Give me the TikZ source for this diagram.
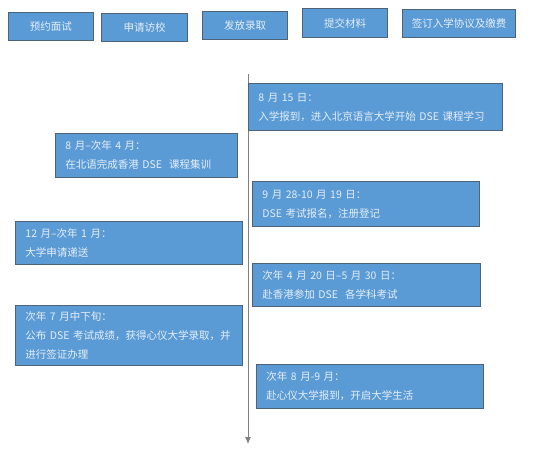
\documentclass[tikz,border=0pt]{standalone}
\usepackage{fontspec}
\setmainfont{Noto Sans CJK SC}
\usepackage{tikz}
\usetikzlibrary{arrows.meta}
\definecolor{boxblue}{HTML}{5B9BD5}
\definecolor{boxline}{HTML}{4F6378}
\definecolor{boxtext}{HTML}{E4EEF8}
\begin{document}
\begin{tikzpicture}
[x=1pt, y=-1pt,
stage/.style={draw=boxline, line width=1pt, fill=boxblue, text=boxtext, font=\fontsize{10.5}{12}\selectfont, inner sep=0pt, anchor=north west},
event/.style={draw=boxline, line width=0.9pt, fill=boxblue, text=boxtext, font=\fontsize{10.5}{19}\selectfont, align=left, inner xsep=10pt, inner ysep=0pt, anchor=north west},
timeline/.style={gray, line width=1pt, -{Latex[length=7pt,width=6pt]}}]
\useasboundingbox (0,0) rectangle (550,450);
\node[stage, minimum width=85pt, minimum height=28pt] (s1) at (8,12) {预约面试};
\node[stage, minimum width=86pt, minimum height=28pt] (s2) at (101,13) {申请访校};
\node[stage, minimum width=85pt, minimum height=28pt] (s3) at (202,11) {发放录取};
\node[stage, minimum width=85pt, minimum height=29pt] (s4) at (302,8) {提交材料};
\node[stage, minimum width=113pt, minimum height=28pt] (s5) at (402,9) {签订入学协议及缴费};
\coordinate (start) at (248,74);
\coordinate (end) at (248,444);
\draw[timeline] (start) -- (end);
\node[event, text width=234pt, minimum height=47pt] (e1) at (248,83) {8 月 15 日：\\入学报到，进入北京语言大学开始 DSE 课程学习};
\node[event, text width=162pt, minimum height=44pt] (e2) at (55,133) {8 月–次年 4 月：\\在北语完成香港 DSE \ 课程集训};
\node[event, text width=207pt, minimum height=45pt] (e3) at (252,181) {9 月 28-10 月 19 日：\\DSE 考试报名，注册登记};
\node[event, text width=207pt, minimum height=43pt] (e4) at (15,221) {12 月–次年 1 月：\\大学申请递送};
\node[event, text width=208pt, minimum height=43pt] (e5) at (252,263) {次年 4 月 20 日–5 月 30 日：\\赴香港参加 DSE \ 各学科考试};
\node[event, text width=207pt, minimum height=60pt] (e6) at (15,305) {次年 7 月中下旬：\\公布 DSE 考试成绩，获得心仪大学录取，并\\进行签证办理};
\node[event, text width=207pt, minimum height=44pt] (e7) at (256,364) {次年 8 月-9 月：\\赴心仪大学报到，开启大学生活};
\end{tikzpicture}
\end{document}
